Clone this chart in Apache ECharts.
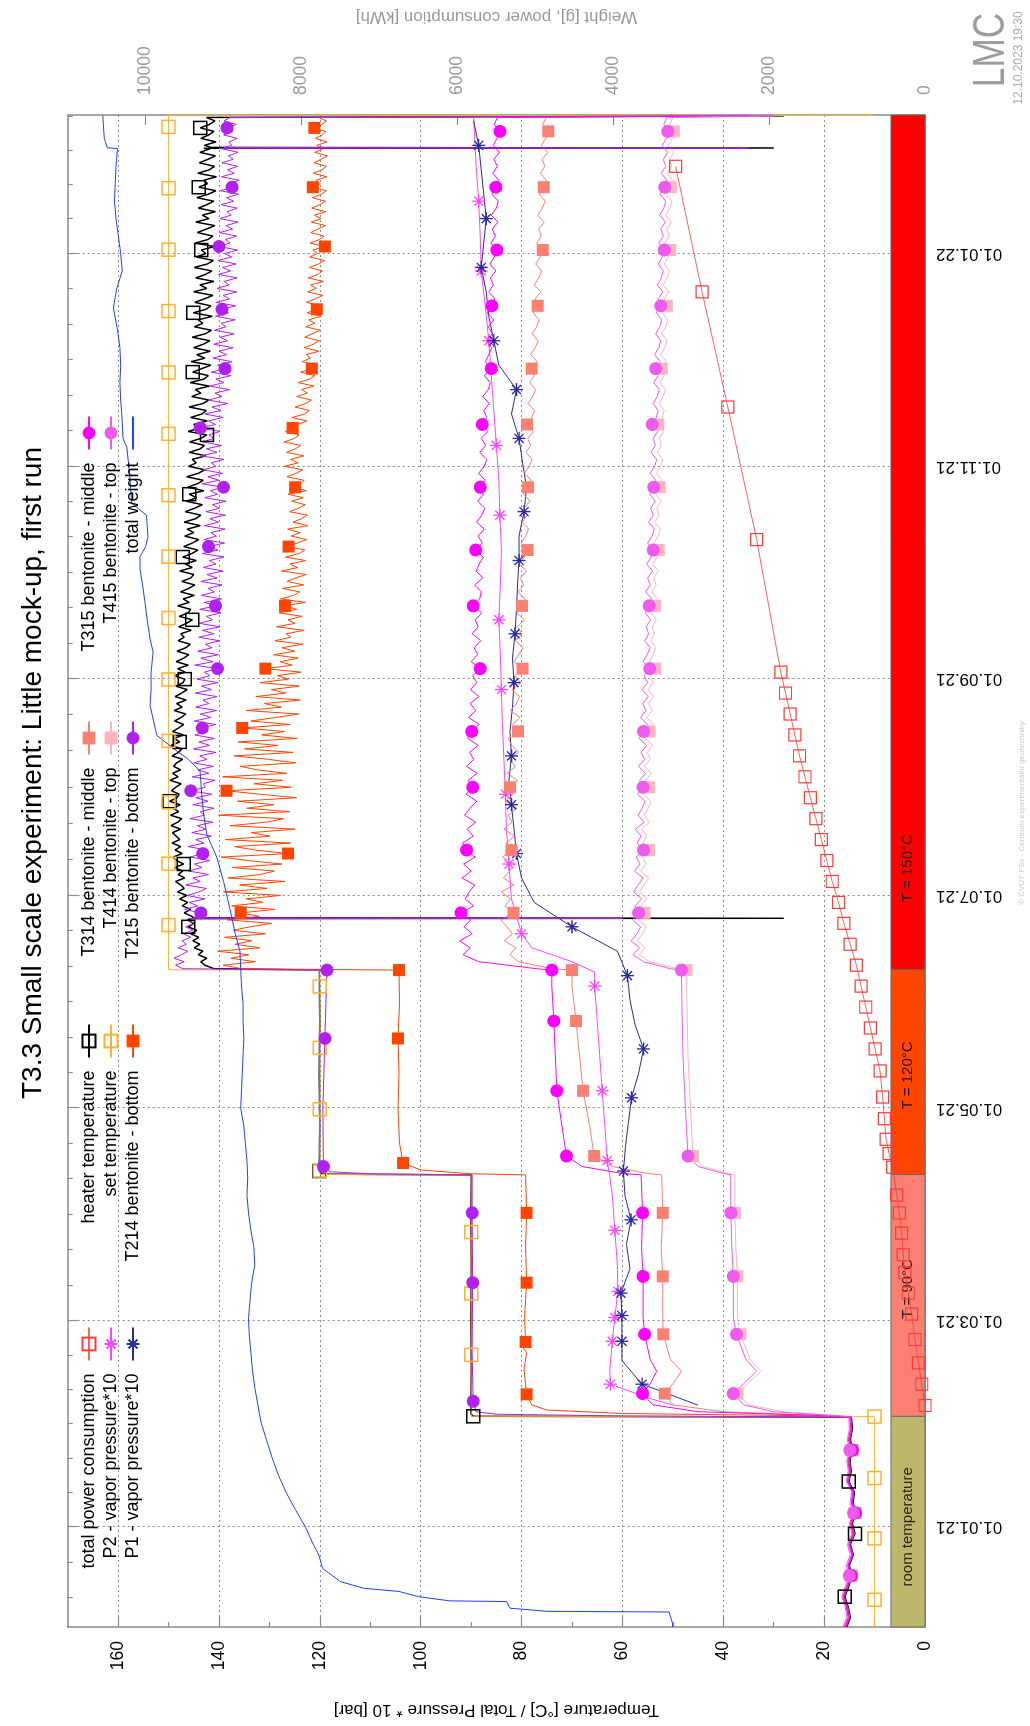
<!DOCTYPE html>
<html><head><meta charset="utf-8">
<script src="https://cdn.jsdelivr.net/npm/echarts@6/dist/echarts.min.js"></script>
<style>
html,body{margin:0;padding:0;background:#fff;overflow:hidden;width:1030px;height:1726px;}
#wrap{position:absolute;left:0;top:0;width:1726px;height:1030px;transform-origin:0 0;transform:translate(0,1726px) rotate(-90deg);background:#fff;}
</style></head><body><div id="wrap"></div>
<script>
// ---------------- DATA (days counted from 01.01.2021) ----------------
const DAY0 = '2021-01-01';
const X_MIN = -28.7, X_MAX = 404.7;
const tickDates = ['2020-11-01','2021-01-01','2021-03-01','2021-05-01','2021-07-01','2021-09-01','2021-11-01','2022-01-01','2022-03-01'];
const tempTicks = [0,20,40,60,80,100,120,140,160];
const tempMinorTicks = [10,30,50,70,90,110,130,150];
const weightTicks = [0,2000,4000,6000,8000,10000];

const bandEdges = [-28.7, 31.7, 101.0, 159.7, 404.7];
const bandNames = ['room temperature','T = 90°C','T = 120°C','T = 150°C'];
const bandLabelDays = [0, 68.2, 129.4, 188.8];

const roomDays = [-28.7,-26,-23,-20,-17,-14,-11,-8,-5,-2,1,4,7,10,13,16,19,22,25,28,31.5];

const setMarks = [-20.9,-3.3,14,31.6,49.3,66.9,84.5,102.1,119.7,137.3,154.9,172.5,190.1,207.7,225.3,242.9,260.5,278.1,295.7,313.3,330.9,348.5,366.1,383.7,401.3];
const sensorMarks = [-13.4,3.8,20.9,38.2,55.3,72.4,89.6,106.8,124,141.2,158.4,175.8,193.5,211.2,228.8,246.3,263.6,280.8,298,315.2,332.2,349.4,366.6,383.8,401];
const pMarks = [40.9,53.2,60.6,70,88,105,122,139,156,173,190,207,224,241,258,275,292,309,326,343,360,377,394];

const powerData = [[34.8,0],[40.9,42],[47,85],[53.7,128],[61,171],[67,215],[72.9,257],[78,280],[84.2,299],[90,330],[95.1,363],[103.1,415],[107,460],[111.1,500],[117,520],[123.2,543],[130.7,577],[137,640],[143,700],[149,760],[155,820],[161,880],[167,960],[173,1040],[179,1110],[185,1190],[191,1260],[197,1330],[203,1400],[209,1470],[215,1540],[221,1610],[227,1670],[233,1730],[239,1790],[245,1850],[283,2160],[321,2530],[354,2860],[390,3200]];

const p2Data = [[34.9,50],[37,55],[40.9,62.4],[45,62.5],[53.2,62],[60,61.5],[67.5,60.9],[75,61],[85,61.5],[95,62],[100.5,62.5],[105,63],[115,63.5],[125,64],[135,64.5],[145,65],[155,65.5],[159,65.5],[162,70],[166,78],[170,80],[180,82],[190,82.5],[200,83],[210,83.2],[220,83.5],[230,83.8],[240,84],[250,84.2],[260,84.5],[270,84.2],[280,84],[290,84.3],[300,84.5],[310,85],[320,85.5],[330,86],[340,86.5],[350,87.2],[360,88],[370,88.2],[380,88.5],[390,89],[404,89.5]];

const p1Data = [[34.9,45],[40.9,56.1],[47.7,60.1],[53.2,60.1],[60.6,60.1],[67,60.3],[74,58.5],[81,59.2],[88,58.3],[95,59.5],[102,59.8],[109,59.4],[116,58.8],[123,58.2],[130,56.8],[137,55.8],[144,57.5],[151,58.5],[158,59],[165,61],[172,70],[179,77.5],[186,80],[193,81],[200,81.5],[207,82],[214,82.5],[221,82],[228,82.3],[235,81.8],[242,81.5],[249,81.8],[256,81.3],[263,81],[270,80.8],[277,80.5],[284,80.5],[291,79.5],[298,79],[305,79.8],[312,80.5],[319,82],[326,81],[333,84.5],[340,85.5],[347,86.5],[354,87],[361,88],[368,87.5],[375,87],[382,87.5],[389,88],[396,88.5],[403,89.5]];

const heaterRoom = [15.5,14.8,15.2,15.9,15.1,14.5,15.0,14.2,14.8,13.9,14.4,13.7,14.3,14.0,15.1,14.6,14.9,14.3,14.8,14.4,14.6];
const heaterMid = [[31.7,89.6],[32.5,90.1],[45,90],[60,90.1],[75,90],[90,90.1],[100.9,90],[101.1,119.6],[102,120.1],[115,120],[130,120.1],[145,120],[159.6,120.1]];
// 150 °C phase, one value per day from day 160
const heater150 = [
141.0,142.8,143.6,142.4,144.1,143.2,144.9,143.8,145.2,144.0,
145.6,144.4,146.1,145.0,146.3,145.4,146.9,145.6,147.3,146.2,
147.8,146.4,148.2,146.9,147.6,148.6,146.8,148.1,147.2,148.8,
147.0,148.4,149.1,147.3,148.7,147.6,149.3,147.8,148.5,149.2,
147.6,149.5,148.2,147.4,149.6,148.0,149.1,147.7,149.8,148.3,
147.9,149.4,148.6,147.5,149.7,148.1,149.2,147.6,149.0,148.4,
147.2,149.3,148.0,147.4,149.5,147.8,148.9,147.1,149.2,148.0,
147.0,148.8,147.5,146.6,148.9,147.3,148.4,146.5,148.7,147.4,
146.3,148.6,147.1,146.8,148.9,146.7,148.2,146.1,148.5,147.0,
146.0,148.3,146.6,145.7,148.1,146.9,147.6,145.5,148.0,146.4,
145.3,147.9,146.1,145.6,148.2,145.9,147.1,144.9,147.6,146.0,
144.8,147.4,145.6,145.0,147.8,145.3,146.7,144.5,147.2,145.4,
144.2,147.0,145.3,144.0,146.8,145.0,146.3,143.7,146.9,144.6,
143.6,146.7,144.8,143.3,146.5,144.4,145.9,143.0,146.2,144.3,
143.1,146.4,144.1,142.8,146.0,144.5,145.3,142.6,145.9,143.7,
142.9,145.8,143.6,142.4,146.1,143.9,145.0,142.3,145.6,143.4,
142.5,145.9,143.2,142.0,145.4,143.6,144.7,141.9,145.7,143.0,
142.1,145.2,143.4,141.6,145.5,142.8,144.4,141.7,145.0,143.1,
141.8,145.3,142.7,141.5,144.9,143.2,144.1,141.3,145.1,142.6,
141.6,144.8,142.9,141.2,145.0,142.4,143.8,141.0,144.6,142.7,
141.4,144.9,142.3,141.1,144.5,142.6,143.5,140.9,144.7,142.2,
141.2,144.3,142.5,140.8,144.6,142.0,143.3,140.7,144.1,142.4,
141.0,144.4,142.1,140.6,144.0,142.3,143.0,140.5,144.2,141.9,
140.9,143.9,142.2,140.7,143.8,141.8,142.9,140.6,143.6,142.0,
141.0,143.7,141.9,140.8,142.5];
const heaterEvents = [[174.35,145.5],[174.45,28],[174.6,145],[395.15,143],[395.25,30],[395.4,141.5],[404.45,28]];

const setData = [[-28.7,10],[-20.9,10],[-3.3,10],[14,10],[31.6,10],[31.7,90],[49.3,90],[66.9,90],[84.5,90],[100.9,90],[101.0,120],[102.1,120],[119.7,120],[137.3,120],[154.9,120],[159.6,120],[159.7,150],[172.5,150],[190.1,150],[207.7,150],[225.3,150],[242.9,150],[260.5,150],[278.1,150],[295.7,150],[313.3,150],[330.9,150],[348.5,150],[366.1,150],[383.7,150],[401.3,150],[404.5,150],[404.55,10]];

const t214Room = [15.6,14.9,15.3,16.0,15.2,14.6,15.1,14.3,14.9,14.0,14.5,13.8,14.4,14.1,15.2,14.7,15.0,14.4,14.9,14.5,14.7];
const t214Mid = [[31.8,20],[32.5,60],[33.5,75],[35,78],[38,79],[45,79.5],[50,79],[52,80],[53,79.2],[60,79.4],[70,79],[80,79.2],[90,79],[100.9,79.2],[101.2,90],[102.3,100],[104.3,103.5],[110,104.2],[120,104.5],[130,104.3],[140,104.5],[150,104.2],[159.6,104.3]];
const t214_150 = [
135.5,139.2,132.8,137.6,134.1,140.3,131.9,136.8,133.5,138.9,
130.8,137.2,133.9,129.6,138.4,132.0,135.7,128.9,137.5,131.3,
134.6,127.8,139.1,130.5,135.9,126.9,138.2,131.7,129.0,137.4,
127.5,134.2,139.6,126.3,132.8,136.9,125.8,138.7,129.9,133.6,
124.9,137.8,130.6,127.2,140.1,126.0,134.5,129.1,136.3,124.6,
131.8,138.5,125.7,133.0,127.4,139.3,126.6,132.4,135.8,124.8,
130.2,137.0,125.3,134.9,128.3,136.2,124.5,131.5,127.0,135.4,
125.9,133.7,128.8,124.2,134.6,127.6,131.0,123.9,132.7,126.8,
129.6,124.1,131.9,126.2,128.4,123.7,130.8,125.5,127.9,124.3,
129.2,125.0,127.5,123.4,128.9,125.8,126.7,123.1,128.6,124.9,
126.3,123.5,128.1,124.6,126.9,122.9,127.8,125.2,124.0,127.4,
123.2,126.5,124.8,122.7,127.6,124.4,125.9,122.8,126.8,124.1,
123.0,126.2,124.5,122.6,125.7,123.9,126.4,122.4,125.3,123.6,
122.5,126.0,124.2,122.9,125.6,123.3,126.3,122.7,124.9,123.8,
123.1,126.5,124.7,123.4,127.0,124.3,125.8,123.2,126.6,124.9,
123.8,127.1,125.0,124.1,126.8,125.4,124.4,122.6,125.5,123.0,
122.1,124.9,122.8,121.7,124.6,122.5,123.6,121.2,124.3,122.0,
121.0,123.8,121.6,120.4,123.5,121.9,122.7,120.2,123.1,121.3,
120.1,123.0,121.5,119.9,122.8,121.0,122.2,119.7,122.5,120.6,
119.6,122.7,120.9,119.4,122.4,120.7,121.8,119.3,122.3,120.4,
119.5,122.1,120.2,119.1,122.0,120.5,121.4,119.0,121.9,120.1,
119.2,121.8,120.4,118.9,121.7,119.8,121.1,118.8,121.6,120.0,
118.9,121.5,119.7,118.7,121.4,119.9,120.8,118.6,121.3,119.6,
118.7,121.2,119.8,118.5,121.0,119.4,120.6,118.6,120.9,119.5,
118.8,121.1,119.6,118.7,120.3];
const t214Events = [[404.45,45]];

const t314Room = [15.9,15.1,15.5,16.2,15.4,14.7,15.2,14.4,15.0,14.2,14.7,13.9,14.5,14.2,15.3,14.9,15.2,14.5,15.1,14.6,14.8];
const t314Mid = [[31.8,18],[33,40],[35,50],[38.2,51.6],[41,50],[44.6,48.3],[48,50.5],[55.2,51.9],[60,52],[71.8,52],[80,52.3],[90,52],[100.9,52.2],[101.3,55],[103.3,62],[106.3,65.6],[115,66.5],[125,67.8],[135,68.5],[145,69.2],[155,70],[159.6,70]];
// every 2 days from day 160
const t314_150 = [
74.0,80.6,82.3,81.1,83.4,81.8,82.9,84.1,81.6,83.3,
82.2,84.0,81.5,83.6,82.4,81.3,83.8,82.0,83.1,81.4,
83.5,81.9,82.6,80.9,83.2,81.7,82.3,80.8,82.9,81.2,
82.4,80.6,81.9,82.7,80.7,81.8,80.3,82.2,81.0,80.4,
81.9,80.2,81.3,79.8,81.5,80.6,79.7,81.2,80.0,80.8,
79.5,80.9,79.9,79.3,80.7,79.6,80.2,79.0,80.5,79.4,
78.8,80.1,79.2,78.6,79.9,78.9,79.5,78.3,79.6,78.7,
78.1,79.4,78.5,77.9,79.1,78.2,78.8,77.6,78.9,78.0,
77.4,78.7,77.8,77.2,78.4,77.5,78.0,76.9,78.2,77.3,
76.7,77.9,77.0,76.5,77.7,76.8,77.3,76.2,77.5,76.6,
76.0,77.2,76.3,75.8,77.0,76.1,76.6,75.5,76.8,75.9,
75.3,76.5,75.6,75.1,76.3,75.4,75.9,74.8,76.1,75.2,
74.7,75.8,75.1];
const t314Events = [[404.45,35]];

const t414Room = [16.1,15.3,15.6,16.3,15.6,14.8,15.4,14.6,15.2,14.3,14.8,14.0,14.7,14.3,15.4,15.0,15.3,14.7,15.2,14.8,14.9];
const t414Mid = [[31.8,16],[33,28],[35,35],[38.2,37.2],[41,35.2],[44.6,32.6],[48,34.7],[55.2,36.6],[60,37.2],[71.8,37.2],[80,37.5],[90,37.7],[100.9,37.7],[101.3,39],[103.3,44],[106.3,46],[120,46.5],[135,47],[150,47.2],[159.6,47.3]];
const t414_150 = [
49.2,54.6,56.7,55.5,57.1,56.0,55.3,56.8,55.6,56.4,
55.1,56.6,55.7,54.8,56.4,55.3,56.1,54.7,55.9,55.2,
56.2,54.6,55.7,54.9,54.4,55.8,54.7,55.4,54.3,55.6,
54.5,55.1,54.0,55.5,54.6,53.9,55.2,54.1,54.8,53.8,
54.9,53.9,54.5,53.5,54.7,53.9,53.4,54.4,53.6,54.1,
53.3,54.3,53.5,53.0,54.2,53.3,53.8,52.9,54.0,53.1,
52.8,53.8,52.9,52.5,53.6,52.7,53.2,52.3,53.4,52.6,
52.2,53.3,52.4,52.0,53.1,52.3,52.7,51.8,52.9,52.1,
51.7,52.7,51.9,51.5,52.6,51.7,52.2,51.3,52.4,51.6,
51.2,52.2,51.4,51.0,52.1,51.2,51.7,50.8,51.9,51.1,
50.7,51.7,50.9,50.5,51.6,50.7,51.2,50.3,51.4,50.6,
50.2,51.3,50.4,50.0,51.1,50.2,50.7,49.8,50.9,50.1,
49.8,50.6,50.0];
const t414Events = [[404.45,30]];

const t215Room = [15.8,15.0,15.4,16.1,15.3,14.6,15.1,14.3,14.9,14.1,14.6,13.8,14.4,14.1,15.2,14.8,15.1,14.4,15.0,14.5,14.7];
const t215Mid = [[31.8,60],[32.3,85],[33,89],[36,89.6],[50,89.8],[70,89.7],[90,89.8],[100.9,89.8],[101.2,110],[101.8,118],[103.3,119.3],[120,119.4],[140,119],[159.6,118.6]];
// one value per day from day 160
const t215_150 = [
147.2,148.6,146.9,148.9,147.4,146.2,148.1,146.5,147.3,145.6,
147.0,145.2,146.6,144.8,146.4,145.1,143.6,146.8,144.2,145.9,
142.8,146.3,144.0,142.5,146.6,143.7,145.2,142.1,146.0,143.4,
144.9,141.8,145.7,143.2,142.3,146.1,143.0,144.6,141.5,145.4,
142.6,144.3,141.2,145.8,142.9,143.7,141.0,145.2,142.2,144.5,
141.4,145.6,142.7,143.1,140.8,145.3,142.0,144.2,141.1,145.0,
142.4,143.8,140.6,145.1,141.9,144.0,140.9,144.8,142.3,143.3,
140.7,144.9,141.6,143.7,140.5,144.6,142.0,143.2,140.4,144.7,
141.5,143.5,140.2,144.4,141.8,142.9,140.3,144.8,141.2,143.6,
140.1,144.2,141.4,142.7,139.9,144.0,141.0,143.3,139.8,143.9,
141.3,142.5,139.6,143.8,140.7,142.9,139.5,143.5,140.9,142.2,
139.4,143.6,140.4,142.4,139.2,143.1,140.6,141.9,139.0,143.3,
140.2,142.1,138.9,143.0,140.5,141.6,138.8,142.9,140.1,141.8,
138.7,142.6,139.9,141.3,138.6,142.8,140.3,141.7,139.1,143.4,
140.0,142.2,139.3,143.1,140.6,141.5,139.0,143.6,140.4,142.5,
139.5,143.3,141.0,142.0,139.8,143.7,140.7,142.1,139.2,142.8,
139.6,141.4,138.3,142.1,139.4,140.8,137.9,141.9,139.0,140.6,
137.6,141.5,138.8,140.3,137.4,141.2,138.5,140.0,137.2,141.0,
138.3,139.8,137.0,140.9,138.6,139.6,136.8,140.7,138.1,139.4,
136.7,140.6,137.9,139.2,136.5,140.4,138.0,139.0,136.4,140.1,
137.7,139.3,136.6,140.2,137.5,138.9,136.3,140.0,137.8,138.7,
136.5,139.9,137.3,138.6,136.2,139.8,137.6,138.4,136.4,139.6,
137.1,138.5,136.1,139.7,137.4,138.2,136.0,139.5,137.0,138.3,
136.3,139.4,137.2,138.1,136.2,139.3,137.5,138.0,136.4,139.1,
137.3,138.4,136.6,139.0,137.8];
const t215Events = [[174.35,146],[174.45,60],[174.6,145],[395.15,140],[395.25,35],[395.4,139],[404.45,30]];

const t315Room = [16.0,15.2,15.6,16.3,15.5,14.8,15.3,14.5,15.1,14.3,14.8,14.0,14.6,14.3,15.4,15.0,15.3,14.6,15.2,14.7,14.9];
const t315Mid = [[31.8,18],[33,45],[35,54],[38.2,56],[41,54.5],[44.6,53.2],[48,54.5],[55.2,55.6],[60,55.9],[71.8,55.9],[80,56.2],[90,56],[100.9,56.3],[101.3,60],[103.3,68],[106.3,71.1],[115,72],[125,73],[135,73.3],[145,73.6],[155,74],[159.6,74]];
// every 2 days from day 160
const t315_150 = [
77.0,88.5,91.6,90.2,92.3,89.8,91.4,90.1,92.0,89.5,
91.2,90.4,89.3,91.8,90.0,91.5,89.2,90.9,91.7,89.6,
90.8,89.1,91.3,90.2,88.9,91.0,89.7,90.6,88.8,90.9,
89.5,90.3,88.6,90.7,89.9,88.4,90.5,89.1,90.2,88.5,
90.1,88.9,89.7,88.2,90.0,88.7,89.4,88.1,89.8,88.6,
89.2,87.9,89.6,88.3,88.0,89.3,87.7,89.0,88.4,87.6,
89.1,87.8,88.6,87.4,88.9,87.9,87.3,88.7,87.6,88.2,
87.2,88.5,87.4,86.9,88.3,87.1,88.0,86.7,87.8,86.9,
87.5,86.4,87.7,86.6,86.2,87.4,86.0,87.2,86.5,85.9,
87.0,85.8,86.6,85.5,86.8,85.9,85.3,86.5,85.6,86.2,
85.1,86.3,85.4,84.9,86.1,85.2,85.8,84.7,86.0,85.0,
84.6,85.9,85.1,84.5,85.7,84.8,85.5,84.4,85.6,84.9,
84.3,85.4,84.8];
const t315Events = [[404.45,35]];

const t415Room = [16.3,15.5,15.8,16.5,15.8,15.0,15.6,14.8,15.4,14.5,15.0,14.2,14.9,14.5,15.6,15.2,15.5,14.9,15.4,15.0,15.1];
const t415Mid = [[31.8,17],[33,30],[35,36],[38.2,38],[41,36],[44.6,33.4],[48,35.5],[55.2,37.4],[60,38],[71.8,38],[80,38.3],[90,38.5],[100.9,38.5],[101.3,40],[103.3,45],[106.3,47],[120,47.5],[135,48],[150,48.2],[159.6,48.3]];
const t415_150 = [
50.5,55.8,57.9,56.6,58.3,57.1,56.4,58.0,56.8,57.5,
56.2,57.8,56.9,55.9,57.6,56.5,57.3,55.8,57.1,56.3,
57.4,55.7,56.9,56.1,55.5,57.0,55.9,56.6,55.4,56.8,
55.6,56.3,55.2,56.7,55.8,55.0,56.4,55.3,56.0,54.9,
56.1,55.0,55.7,54.6,55.9,55.1,54.5,55.6,54.8,55.3,
54.4,55.5,54.7,54.2,55.4,54.5,55.0,54.0,55.2,54.3,
53.9,55.0,54.1,53.7,54.8,53.9,54.4,53.5,54.6,53.8,
53.4,54.5,53.6,53.2,54.3,53.5,53.9,53.0,54.1,53.3,
52.9,53.9,53.1,52.7,53.8,52.9,53.4,52.5,53.6,52.8,
52.4,53.4,52.6,52.2,53.3,52.4,52.9,52.0,53.1,52.3,
51.9,52.9,52.1,51.7,52.8,51.9,52.4,51.5,52.6,51.8,
51.4,52.5,51.6,51.2,52.3,51.4,51.9,51.0,52.1,51.3,
51.0,51.8,51.2];
const t415Events = [[404.45,30]];

const weightData = [[-28.7,3240],[-27.6,3240],[-25.5,3270],[-24.4,3281],[-24.2,4850],[-23.3,5325],[-21.4,5368],[-21.2,6100],[-20,6500],[-18.5,6750],[-17.6,7200],[-15.7,7500],[-11.9,7730],[-8.1,7776],[-5,7850],[0,7950],[5,8080],[10,8200],[15,8300],[20,8380],[25,8450],[30,8520],[35,8560],[40,8600],[45,8630],[50,8650],[55,8670],[60,8680],[65,8660],[70,8640],[75,8600],[80,8610],[85,8650],[90,8680],[95,8700],[100,8690],[105,8700],[110,8720],[115,8740],[120,8780],[125,8770],[130,8760],[135,8750],[140,8740],[145,8750],[150,8750],[155,8770],[160,8780],[165,8790],[170,8850],[177,8917],[185,9000],[192,9088],[198.5,9216],[205,9260],[210,9280],[216.6,9302],[220,9450],[223.2,9648],[226.9,9857],[235.4,9943],[240,9930],[245,9930],[250.8,9904],[254.5,9943],[260,9980],[265,10008],[270,10040],[274.4,10072],[278.1,10072],[281,10000],[283.9,9970],[290,9990],[293.4,10178],[300,10200],[305,10220],[309.5,10242],[312,10290],[318.8,10306],[323,10320],[328,10330],[333,10320],[338,10330],[343,10360],[349.4,10414],[355,10370],[360,10300],[365,10320],[370,10350],[375,10380],[380,10400],[385,10390],[390,10380],[395.1,10362],[395.3,10491],[398,10530],[401,10540],[404.6,10550]];

// ---------------- helpers ----------------
const DAYMS = 86400000;
const dayOf = s => (Date.parse(s + 'T00:00:00Z') - Date.parse(DAY0 + 'T00:00:00Z')) / DAYMS;
const majorDays = tickDates.map(dayOf);
const minorDays = [];
for (let i = 0; i < majorDays.length - 1; i++) {
  const a = majorDays[i], b = majorDays[i + 1];
  for (let k = 1; k < 6; k++) minorDays.push(a + (b - a) * k / 6);
}
function seq(start, step, vals) { return vals.map((v, i) => [start + i * step, v]); }
function merge(...parts) { return [].concat(...parts).sort((a, b) => a[0] - b[0]); }
function withMarks(pairs, markDays) {
  const marked = new Set();
  if (markDays === 'all') pairs.forEach((p, i) => marked.add(i));
  else markDays.forEach(md => {
    let best = -1, bd = 1e9;
    pairs.forEach((p, i) => { const dd = Math.abs(p[0] - md); if (dd < bd) { bd = dd; best = i; } });
    if (best >= 0 && bd < 4) marked.add(best);
  });
  return pairs.map((p, i) => marked.has(i) ? { value: p } : { value: p, symbol: 'none' });
}
function fmtDay(v) {
  const d = new Date(Date.parse(DAY0 + 'T00:00:00Z') + Math.round(v) * DAYMS);
  const p = n => String(n).padStart(2, '0');
  return p(d.getUTCDate()) + '.' + p(d.getUTCMonth() + 1) + '.' + p(d.getUTCFullYear() % 100);
}
const roomPairs = vals => roomDays.map((d, i) => [d, vals[i]]);

const C = {
  power: '#ff3a3a', p2: '#ff44ff', p1: '#2a2aa0', heater: '#000000', set: '#ffb030',
  t214: '#ff4500', t314: '#fa8072', t414: '#ffb3bd', t215: '#b020f0', t315: '#ff00ff',
  t415: '#ee5aee', weight: '#2040ff'
};
const ASTER = 'path://M5,0L5,10M0,5L10,5M1.5,1.5L8.5,8.5M1.5,8.5L8.5,1.5';
const FONT = 'Liberation Sans, Arial, Helvetica, sans-serif';

function lineSeries(name, color, data, sym, opt) {
  const hollow = sym.hollow;
  return Object.assign({
    name, type: 'line', data, xAxisIndex: 0, yAxisIndex: 0,
    showSymbol: true, showAllSymbol: true, symbol: sym.type, symbolSize: sym.size,
    lineStyle: { color, width: 1 },
    itemStyle: hollow ? { color: 'rgba(0,0,0,0)', borderColor: color, borderWidth: sym.bw || 1.5 }
                      : { color, borderColor: color, borderWidth: sym.bw || 0 },
    emphasis: { disabled: true }, animation: false, z: 3, silent: true
  }, opt || {});
}

const series = [];
series.push({
  name: 'bands', type: 'line', data: [], xAxisIndex: 0, yAxisIndex: 0, z: 1, silent: true,
  markArea: {
    silent: true,
    data: bandNames.map((n, i) => [
      { xAxis: bandEdges[i], yAxis: 0, itemStyle: { color: ['#bdb76b', '#fa8072', '#ff4500', '#ff0000'][i], borderColor: '#6a6a6a', borderWidth: 1 } },
      { xAxis: bandEdges[i + 1], yAxis: 6.75 }
    ]),
    label: { show: false }
  }
});
series.push({
  name: 'bandLabels', type: 'scatter', xAxisIndex: 0, yAxisIndex: 0, z: 2, silent: true,
  symbolSize: 0,
  data: bandLabelDays.map((d, i) => ({ value: [d, 3.4], name: bandNames[i] })),
  label: { show: true, position: 'inside', formatter: p => p.name, fontSize: 15, color: '#000', fontFamily: FONT }
});

series.push(lineSeries('total power consumption', C.power, withMarks(powerData, 'all'), { type: 'rect', size: 12, hollow: true, bw: 1.2 }, { yAxisIndex: 1, lineStyle: { color: C.power, width: 1, opacity: 0.8 } }));
series.push(lineSeries('P2 - vapor pressure*10', C.p2, withMarks(p2Data, pMarks), { type: ASTER, size: 13, hollow: true, bw: 1.3 }));
series.push(lineSeries('P1 - vapor pressure*10', C.p1, withMarks(p1Data, pMarks), { type: ASTER, size: 13, hollow: true, bw: 1.3 }));
series.push(lineSeries('heater temperature', C.heater, withMarks(merge(roomPairs(heaterRoom), heaterMid, seq(160, 1, heater150), heaterEvents), setMarks), { type: 'rect', size: 13, hollow: true, bw: 1.5 }, { lineStyle: { color: C.heater, width: 1.5 } }));
series.push(lineSeries('set temperature', C.set, withMarks(setData, setMarks), { type: 'rect', size: 13, hollow: true, bw: 1.5 }));
series.push(lineSeries('T214 bentonite - bottom', C.t214, withMarks(merge(roomPairs(t214Room), t214Mid, seq(160, 1, t214_150), t214Events), sensorMarks), { type: 'rect', size: 12 }));
series.push(lineSeries('T314 bentonite - middle', C.t314, withMarks(merge(roomPairs(t314Room), t314Mid, seq(160, 2, t314_150), t314Events), sensorMarks), { type: 'rect', size: 12 }));
series.push(lineSeries('T414 bentonite - top', C.t414, withMarks(merge(roomPairs(t414Room), t414Mid, seq(160, 2, t414_150), t414Events), sensorMarks), { type: 'rect', size: 12 }));
series.push(lineSeries('T215 bentonite - bottom', C.t215, withMarks(merge(roomPairs(t215Room), t215Mid, seq(160, 1, t215_150), t215Events), sensorMarks), { type: 'circle', size: 13 }));
series.push(lineSeries('T315 bentonite - middle', C.t315, withMarks(merge(roomPairs(t315Room), t315Mid, seq(160, 2, t315_150), t315Events), sensorMarks), { type: 'circle', size: 13 }));
series.push(lineSeries('T415 bentonite - top', C.t415, withMarks(merge(roomPairs(t415Room), t415Mid, seq(160, 2, t415_150), t415Events), sensorMarks), { type: 'circle', size: 13 }));
series.push(lineSeries('total weight', C.weight, weightData, { type: 'none', size: 0 }, { yAxisIndex: 1, showSymbol: false }));

const legendCols = [
  ['total power consumption', 'P2 - vapor pressure*10', 'P1 - vapor pressure*10'],
  ['heater temperature', 'set temperature', 'T214 bentonite - bottom'],
  ['T314 bentonite - middle', 'T414 bentonite - top', 'T215 bentonite - bottom'],
  ['T315 bentonite - middle', 'T415 bentonite - top', 'total weight']
];
const legendIconX = [383, 686, 989, 1294];

const axisGray = '#8a8a8a';
const xBase = { type: 'value', min: X_MIN, max: X_MAX, gridIndex: 0 };
const yTempBase = { type: 'value', min: 0, max: 170, gridIndex: 0 };

const option = {
  animation: false,
  backgroundColor: '#fff',
  textStyle: { fontFamily: FONT },
  grid: { left: 93.7, right: 112.7, top: 67.7, bottom: 105, containLabel: false },
  xAxis: [
    Object.assign({}, xBase, {
      position: 'bottom',
      axisLine: { show: true, onZero: false, lineStyle: { color: axisGray, width: 1.5 } },
      axisTick: { show: true, inside: true, length: 10, customValues: majorDays, lineStyle: { color: axisGray, width: 1.2 } },
      axisLabel: { show: true, customValues: majorDays, formatter: fmtDay, rotate: 90, margin: 11, fontSize: 17, color: '#000' },
      splitLine: { show: true, lineStyle: { type: [2, 3], color: '#8c8c8c', width: 1 } }
    }),
    Object.assign({}, xBase, {
      position: 'top',
      axisLine: { show: true, onZero: false, lineStyle: { color: axisGray, width: 1.5 } },
      axisTick: { show: true, inside: true, length: 10, customValues: majorDays, lineStyle: { color: axisGray, width: 1.2 } },
      axisLabel: { show: false }, splitLine: { show: false }
    }),
    Object.assign({}, xBase, {
      position: 'bottom',
      axisLine: { show: false, onZero: false },
      axisTick: { show: true, inside: true, length: 5, customValues: minorDays, lineStyle: { color: axisGray, width: 1.2 } },
      axisLabel: { show: false }, splitLine: { show: false }
    }),
    Object.assign({}, xBase, {
      position: 'top',
      axisLine: { show: false, onZero: false },
      axisTick: { show: true, inside: true, length: 5, customValues: minorDays, lineStyle: { color: axisGray, width: 1.2 } },
      axisLabel: { show: false }, splitLine: { show: false }
    })
  ],
  yAxis: [
    Object.assign({}, yTempBase, {
      position: 'left',
      name: 'Temperature [°C] / Total Pressure * 10 [bar]', nameLocation: 'middle', nameGap: 74,
      nameTextStyle: { fontSize: 17, color: '#000', fontFamily: FONT },
      axisLine: { show: true, onZero: false, lineStyle: { color: axisGray, width: 1.5 } },
      axisTick: { show: true, inside: true, length: 10, customValues: tempTicks, lineStyle: { color: axisGray, width: 1.2 } },
      axisLabel: { customValues: tempTicks, margin: 14, fontSize: 17.5, color: '#000' },
      splitLine: { show: true, lineStyle: { type: [2, 3], color: '#8c8c8c', width: 1 } }
    }),
    {
      type: 'value', min: 0, max: 11000, gridIndex: 0, position: 'right',
      name: 'Weight [g], power consumption [kWh]', nameLocation: 'middle', nameGap: 90,
      nameTextStyle: { fontSize: 17, color: '#999', fontFamily: FONT },
      axisLine: { show: true, onZero: false, lineStyle: { color: axisGray, width: 1.5 } },
      axisTick: { show: true, inside: true, length: 10, customValues: weightTicks, lineStyle: { color: axisGray, width: 1.2 } },
      axisLabel: { customValues: weightTicks, margin: 20, fontSize: 17.5, color: '#999', formatter: v => String(v) },
      splitLine: { show: false }
    },
    Object.assign({}, yTempBase, {
      position: 'left',
      axisLine: { show: false, onZero: false },
      axisTick: { show: true, inside: true, length: 5, customValues: tempMinorTicks, lineStyle: { color: axisGray, width: 1.2 } },
      axisLabel: { show: false }, splitLine: { show: false }
    })
  ],
  legend: legendCols.map((names, k) => ({
    data: names.map(n => n === 'total weight' ? { name: n, itemStyle: { opacity: 0 } } : n),
    orient: 'vertical', align: 'right',
    right: 1726 - (legendIconX[k] + 16.5), top: 80,
    itemWidth: 33, itemHeight: 16, itemGap: 4, padding: 0,
    selectedMode: false,
    textStyle: { fontSize: 18, color: '#000', fontFamily: FONT, padding: [0, 8, 0, 0] }
  })),
  graphic: [
    { type: 'text', x: 953, y: 33, silent: true, style: { text: 'T3.3 Small scale experiment: Little mock-up, first run', font: '28px ' + FONT, fill: '#000', align: 'center', verticalAlign: 'middle' } },
    { type: 'text', x: 1676, y: 992, scaleX: 0.8, silent: true, style: { text: 'LMC', font: '44px ' + FONT, fill: '#9c9c9c', align: 'center', verticalAlign: 'middle' } },
    { type: 'text', x: 1668, y: 1019, silent: true, style: { text: '12.10.2023 19:30', font: '12px ' + FONT, fill: '#aaaaaa', align: 'center', verticalAlign: 'middle' } },
    { type: 'text', x: 913, y: 1022, silent: true, style: { text: '© ČVUT FSv - Centrum experimentální geotechniky', font: '8px ' + FONT, fill: '#c8c8c8', align: 'center', verticalAlign: 'middle' } }
  ],
  series
};

const chart = echarts.init(document.getElementById('wrap'), null, { renderer: 'canvas', width: 1726, height: 1030 });
chart.setOption(option);
</script></body></html>
